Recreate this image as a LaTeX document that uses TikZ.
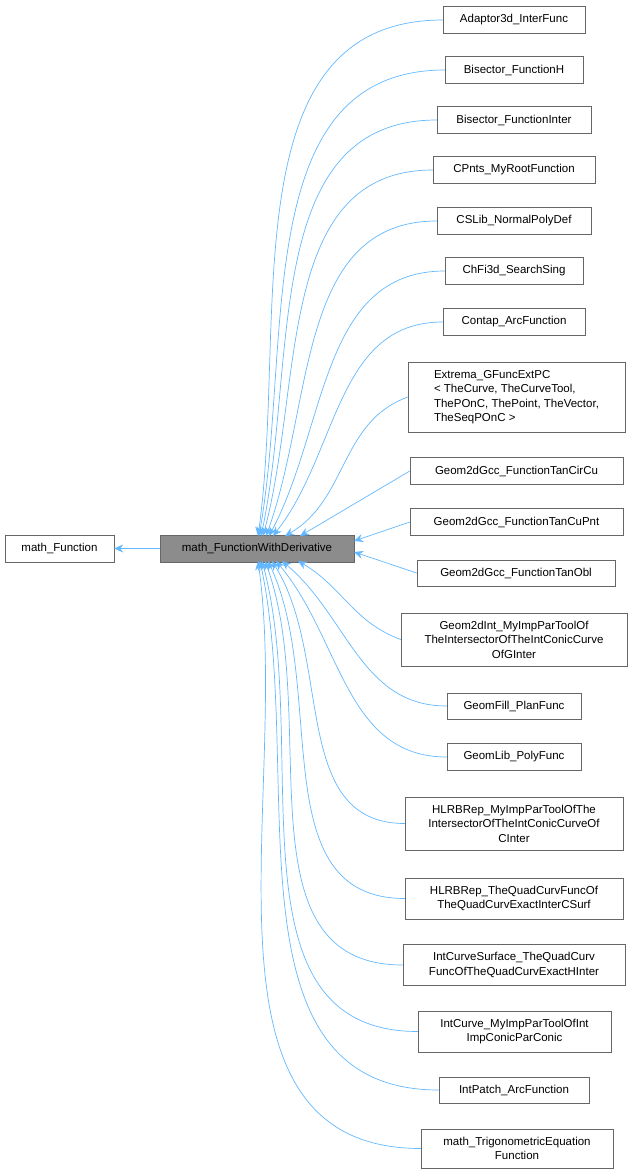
\documentclass[tikz,border=0pt]{standalone}
\usepackage{fontspec}
\setmainfont{Liberation Sans}
\usetikzlibrary{arrows.meta}
\definecolor{edgeblue}{HTML}{63B8FF}
\tikzset{
  cls/.style={draw=black!60, fill=white, inner xsep=4pt, inner ysep=8pt, minimum height=25, align=center,
    font=\fontsize{11.5}{14.5}\selectfont},
  base/.style={cls, fill=black!45},
  inh/.style={draw=edgeblue, line width=0.7pt, -{Stealth[length=9pt,width=8pt]}}
}
\begin{document}
\begin{tikzpicture}[x=1pt,y=-1pt]
    \useasboundingbox (0,0) rectangle (633,1176);
    \node[cls, minimum width=109] (mf) at (59.5,548.5) {math\_Function};
    \node[base, minimum width=194] (mfd) at (257,548.5) {math\_FunctionWithDerivative};

    \node[cls, minimum width=142] (c1) at (514,20) {Adaptor3d\_InterFunc};
    \node[cls, minimum width=138] (c2) at (514,70) {Bisector\_FunctionH};
    \node[cls, minimum width=154] (c3) at (514,120) {Bisector\_FunctionInter};
    \node[cls, minimum width=162] (c4) at (514,170) {CPnts\_MyRootFunction};
    \node[cls, minimum width=154] (c5) at (514,221) {CSLib\_NormalPolyDef};
    \node[cls, minimum width=138] (c6) at (514,271) {ChFi3d\_SearchSing};
    \node[cls, minimum width=142] (c7) at (514,322) {Contap\_ArcFunction};
    \node[cls, minimum width=217, align=left] (c8) at (516.5,397) {Extrema\_GFuncExtPC\\{}< TheCurve, TheCurveTool,\\ThePOnC, ThePoint, TheVector,\\TheSeqPOnC >};
    \node[cls, minimum width=213] (c9) at (516.5,471) {Geom2dGcc\_FunctionTanCirCu};
    \node[cls, minimum width=213] (c10) at (516.5,522) {Geom2dGcc\_FunctionTanCuPnt};
    \node[cls, minimum width=198] (c11) at (516,573) {Geom2dGcc\_FunctionTanObl};
    \node[cls, minimum width=226] (c12) at (514,639.5) {Geom2dInt\_MyImpParToolOf\\TheIntersectorOfTheIntConicCurve\\OfGInter};
    \node[cls, minimum width=134] (c13) at (514,706) {GeomFill\_PlanFunc};
    \node[cls, minimum width=134] (c14) at (514,757) {GeomLib\_PolyFunc};
    \node[cls, minimum width=218] (c15) at (514,823.5) {HLRBRep\_MyImpParToolOfThe\\IntersectorOfTheIntConicCurveOf\\CInter};
    \node[cls, minimum width=218] (c16) at (514,898.5) {HLRBRep\_TheQuadCurvFuncOf\\TheQuadCurvExactInterCSurf};
    \node[cls, minimum width=222] (c17) at (514,965) {IntCurveSurface\_TheQuadCurv\\FuncOfTheQuadCurvExactHInter};
    \node[cls, minimum width=193] (c18) at (514.5,1031.5) {IntCurve\_MyImpParToolOfInt\\ImpConicParConic};
    \node[cls, minimum width=150] (c19) at (514,1090) {IntPatch\_ArcFunction};
    \node[cls, minimum width=192] (c20) at (517,1148.5) {math\_TrigonometricEquation\\Function};

    \draw[inh] (mfd) -- (mf);
    % edges from above
    \foreach \n/\ex/\a in {c1/258/82, c2/259/80, c3/261/78, c4/263/75, c5/266/70, c6/269/62, c7/273/52}
      \draw[inh] (\n.west) to[out=180, in=\a] (\ex,536);
    \draw[inh] (c8.west) to[out=200, in=30] (285,536);
    \draw[inh] (c9.west) -- (300,536);
    \draw[inh] (c10.west) -- (354,541);
    \draw[inh] (c11.west) -- (354,552);
    \draw[inh] (c12.west) to[out=160, in=-30] (298,561);
    % edges from below
    \foreach \n/\ex/\a in {c13/282/-40, c14/276/-50, c15/272/-58, c16/268/-65, c17/265/-70, c18/262/-75, c19/260/-78, c20/258/-82}
      \draw[inh] (\n.west) to[out=180, in=\a] (\ex,561);
\end{tikzpicture}
\end{document}
